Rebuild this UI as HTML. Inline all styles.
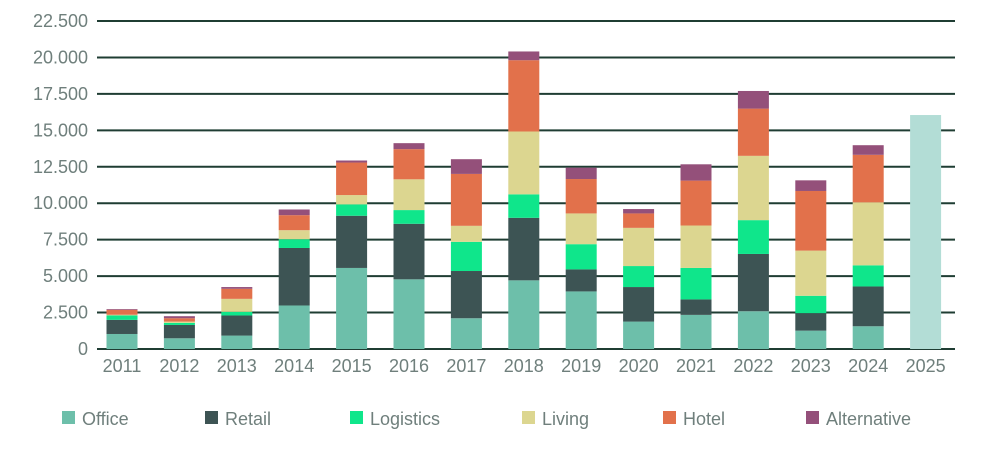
<!DOCTYPE html>
<html><head><meta charset="utf-8"><style>
body{margin:0;background:#fff;width:992px;height:465px;overflow:hidden;font-family:"Liberation Sans",sans-serif}
svg text{font-family:"Liberation Sans",sans-serif;fill:#6f7f7c;font-size:18px}
</style></head><body>
<svg id="chart" width="992" height="465" xmlns="http://www.w3.org/2000/svg">
<g id="grid"></g>
<g id="ylab"></g>
<g id="bars"></g>
<g id="xlab"></g>
<g id="legend"></g>
</svg>
<script>
const years=["2011","2012","2013","2014","2015","2016","2017","2018","2019","2020","2021","2022","2023","2024","2025"];
const office=[1030,735,920,2985,5560,4780,2110,4710,3950,1880,2340,2590,1260,1560,0];
const retail=[970,915,1380,3945,3580,3810,3240,4290,1510,2370,1060,3930,1200,2730,0];
const logistics=[300,140,250,600,780,940,2000,1610,1730,1440,2160,2320,1190,1450,0];
const living=[50,90,890,620,640,2110,1100,4310,2110,2620,2910,4410,3100,4320,0];
const hotel=[340,230,690,1030,2230,2070,3560,4890,2360,990,3080,3240,4090,3260,0];
const alternative=[50,140,120,390,140,410,1010,600,780,300,1120,1210,730,660,0];
const total2025=[0,0,0,0,0,0,0,0,0,0,0,0,0,0,16050];
const yTicks=[0,2500,5000,7500,10000,12500,15000,17500,20000,22500];
const yTickLabels=["0","2.500","5.000","7.500","10.000","12.500","15.000","17.500","20.000","22.500"];
const seriesNames=["Office","Retail","Logistics","Living","Hotel","Alternative"];
const seriesData=[office,retail,logistics,living,hotel,alternative];
const colors=["#6dbfaa","#3d5454","#0fe68b","#dcd690","#e2714b","#94507a"];
const NS="http://www.w3.org/2000/svg";
const y=v=>349-v*(328/22500);
const x=i=>122+i*57.4;
const bw=31;
function mk(t,a,p){const e=document.createElementNS(NS,t);for(const k in a)e.setAttribute(k,a[k]);p.appendChild(e);return e;}
const grid=document.getElementById('grid'),ylab=document.getElementById('ylab');
yTicks.forEach((v,i)=>{
 const l=mk('line',{x1:97,x2:955,y1:y(v),y2:y(v),stroke:'#1f3d33','stroke-width':2},grid);
 
 
 const t=mk('text',{x:88,y:y(v)+6,'text-anchor':'end'},ylab);t.textContent=yTickLabels[i];
 
 
});
const bars=document.getElementById('bars'),xlab=document.getElementById('xlab');
years.forEach((yr,i)=>{
 let cum=0;
 seriesData.forEach((s,k)=>{
  if(s[i]>0){const r=mk('rect',{x:x(i)-bw/2,y:y(cum+s[i]),width:bw,height:y(cum)-y(cum+s[i]),fill:colors[k]},bars);
  
  }
  cum+=s[i];
 });
 if(total2025[i]>0){const r=mk('rect',{x:x(i)-bw/2,y:y(total2025[i]),width:bw,height:y(0)-y(total2025[i]),fill:'#b3ddd6'},bars);
  
  }
 const t=mk('text',{x:x(i),y:372,'text-anchor':'middle'},xlab);t.textContent=yr;
 
 
});
const lg=document.getElementById('legend');
const lx=[62,205,350,522,663,806];
seriesNames.forEach((n,k)=>{
 const g=mk('g',{},lg);
 
 
 mk('rect',{x:lx[k],y:411,width:13,height:13,fill:colors[k]},g);
 const t=mk('text',{x:lx[k]+20,y:425},g);t.textContent=n;
});
</script>
</body></html>
